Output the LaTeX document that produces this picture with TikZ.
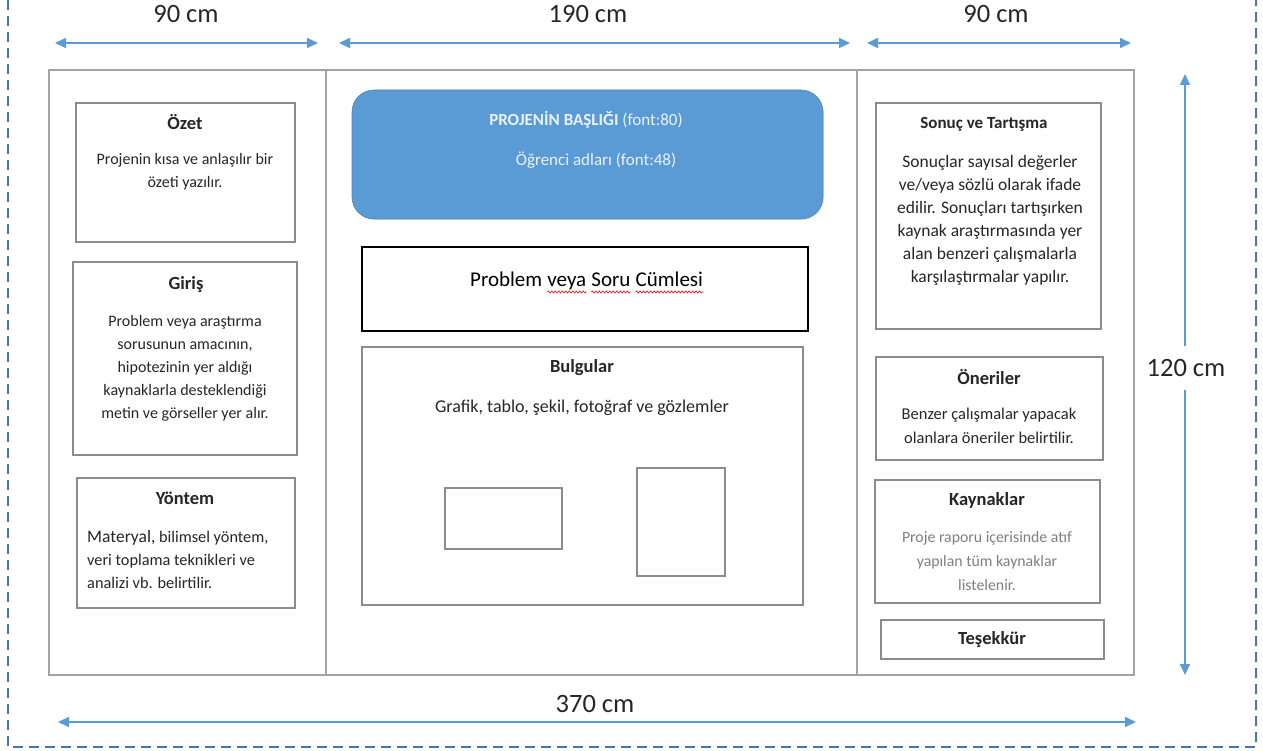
\documentclass[tikz,border=0pt]{standalone}
\usepackage{fontspec}
\setmainfont{Carlito}
\usetikzlibrary{arrows.meta,shadows,decorations.pathmorphing}
\definecolor{boxgray}{HTML}{8C8C8C}
\definecolor{framegray}{HTML}{A3A3A3}
\definecolor{arrowblue}{HTML}{5B9BD5}
\definecolor{dashblue}{HTML}{4472C4}
\definecolor{titlefill}{HTML}{5B9BD5}
\definecolor{titletext}{HTML}{EAF1FA}
\definecolor{bodytext}{HTML}{262626}
\definecolor{lighttext}{HTML}{7F7F7F}
\begin{document}
\begin{tikzpicture}[x=1pt,y=-1pt,
  box/.style={draw=boxgray, line width=1.3pt, fill=white, rectangle, inner sep=0pt,
    drop shadow={opacity=0.15, shadow xshift=1.2pt, shadow yshift=-1.2pt}},
  ttl/.style={font=\fontsize{18.5}{20}\selectfont\bfseries, text=bodytext, inner sep=0pt},
  body/.style={font=\fontsize{16}{23}\selectfont, text=bodytext, align=center, inner sep=0pt},
  dimlabel/.style={font=\fontsize{26.5}{30}\selectfont, text=black!85, inner sep=0pt},
  dimarrow/.style={draw=arrowblue, line width=1.6pt},
  both/.style={{Triangle[width=10pt,length=11pt]}-{Triangle[width=10pt,length=11pt]}},
  tip/.style={-{Triangle[width=10pt,length=11pt]}},
  pword/.style={font=\fontsize{21}{24}\selectfont, text=black, inner sep=0pt, anchor=base west},
  spell/.style={red, line width=0.6pt, decorate, decoration={snake, amplitude=1.1pt, segment length=3.5pt}}
]
\useasboundingbox (0,0) rectangle (1263,751);

% dashed outer border (top edge lies outside the picture)
\coordinate (bTL) at (8,0);
\coordinate (bBL) at (8,747);
\coordinate (bBR) at (1256,747);
\coordinate (bTR) at (1256,0);
\draw[dashblue, line width=2.2pt, dash pattern=on 10pt off 6pt] (bTL) -- (bBL) -- (bBR) -- (bTR);

% main frame
\node[draw=framegray, line width=1.3pt, minimum width=1085pt, minimum height=605pt, inner sep=0pt] (frame) at (591.5,372.5) {};
\coordinate (d1t) at (326,70);  \coordinate (d1b) at (326,675);
\coordinate (d2t) at (857,70);  \coordinate (d2b) at (857,675);
\draw[framegray, line width=1.3pt] (d1t) -- (d1b);
\draw[framegray, line width=1.3pt] (d2t) -- (d2b);

% top dimension arrows
\coordinate (a1l) at (55,43);  \coordinate (a1r) at (318,43);
\coordinate (a2l) at (339,43); \coordinate (a2r) at (850,43);
\coordinate (a3l) at (867,43); \coordinate (a3r) at (1131,43);
\draw[dimarrow, both] (a1l) -- (a1r);
\draw[dimarrow, both] (a2l) -- (a2r);
\draw[dimarrow, both] (a3l) -- (a3r);
\node[dimlabel] (l1) at (186,14) {90 cm};
\node[dimlabel] (l2) at (588,14) {190 cm};
\node[dimlabel] (l3) at (996,14) {90 cm};

% right vertical arrow
\node[dimlabel, inner ysep=13pt] (l4) at (1186,368) {120 cm};
\coordinate (vt) at (1185,74);
\coordinate (vb) at (1185,675);
\draw[dimarrow, tip] (l4.north -| vt) -- (vt);
\draw[dimarrow, tip] (l4.south -| vb) -- (vb);

% bottom arrow
\coordinate (bl) at (58,722); \coordinate (br) at (1136,722);
\draw[dimarrow, both] (bl) -- (br);
\node[dimlabel] (l5) at (595,704) {370 cm};

% ---------------- left column ----------------
\node[box, minimum width=219pt, minimum height=139pt] (ozet) at (185.5,172.5) {};
\node[ttl] (ozetT) at (185,122) {Özet};
\node[body] (ozetB) at (185,172) {Projenin kısa ve anlaşılır bir\\özeti yazılır.};

\node[box, minimum width=224pt, minimum height=193pt] (giris) at (185,358.5) {};
\node[ttl] (girisT) at (186,285) {Giriş};
\node[body] (girisB) at (185,368) {Problem veya araştırma\\sorusunun amacının,\\hipotezinin yer aldığı\\kaynaklarla desteklendiği\\metin ve görseller yer alır.};

\node[box, minimum width=218pt, minimum height=130pt] (yontem) at (186,543) {};
\node[ttl] (yontemT) at (185,498) {Yöntem};
\node[body, align=left, anchor=west, font=\fontsize{16.3}{23}\selectfont] (yontemB) at (87,559) {{\fontsize{17.5}{23}\selectfont Materyal,} bilimsel yöntem,\\veri toplama teknikleri ve\\analizi vb. belirtilir.};

% ---------------- middle column ----------------
\node[fill=titlefill, draw=titlefill!85!black, line width=0.6pt, rounded corners=22pt,
      minimum width=471pt, minimum height=129pt, inner sep=0pt,
      drop shadow={opacity=0.15, shadow xshift=1.2pt, shadow yshift=-1.5pt}] (baslik) at (587.5,154.5) {};
\node[font=\fontsize{17}{20}\selectfont, text=titletext, inner sep=0pt] (baslikA) at (586,120) {\textbf{PROJENİN BAŞLIĞI} (font:80)};
\node[font=\fontsize{17}{20}\selectfont, text=titletext, inner sep=0pt] (baslikB) at (596,160) {Öğrenci adları (font:48)};

\node[draw=black, line width=1.3pt, fill=white, minimum width=446pt, minimum height=84pt, inner sep=0pt] (problem) at (585,289) {};
\node[pword] (pw1) at (470,287) {Problem};
\node[pword] (pw2) at ([xshift=4.8pt]pw1.base east) {veya};
\node[pword] (pw3) at ([xshift=4.8pt]pw2.base east) {Soru};
\node[pword] (pw4) at ([xshift=4.8pt]pw3.base east) {Cümlesi};
\draw[spell] ([yshift=-5pt]pw2.base west) -- ([yshift=-5pt]pw2.base east);
\draw[spell] ([yshift=-5pt]pw3.base west) -- ([yshift=-5pt]pw3.base east);
\draw[spell] ([yshift=-5pt]pw4.base west) -- ([yshift=-5pt]pw4.base east);

\node[box, minimum width=441pt, minimum height=258pt] (bulgular) at (582.5,476) {};
\node[ttl] (bulgularT) at (582,368) {Bulgular};
\node[body, font=\fontsize{18}{20}\selectfont] (bulgularB) at (582,408) {Grafik, tablo, şekil, fotoğraf ve gözlemler};
\node[box, minimum width=117pt, minimum height=61pt] (fig1) at (503.5,518.5) {};
\node[box, minimum width=88pt, minimum height=108pt] (fig2) at (681,522) {};

% ---------------- right column ----------------
\node[box, minimum width=225pt, minimum height=226pt] (sonuc) at (988.5,216) {};
\node[ttl, font=\fontsize{17}{20}\selectfont\bfseries] (sonucT) at (984,124) {Sonuç ve Tartışma};
\node[body, font=\fontsize{17.5}{23}\selectfont] (sonucB) at (990,220) {Sonuçlar sayısal değerler\\ve/veya sözlü olarak ifade\\edilir. Sonuçları tartışırken\\kaynak araştırmasında yer\\alan benzeri çalışmalarla\\karşılaştırmalar yapılır.};

\node[box, minimum width=227pt, minimum height=103pt] (oneriler) at (989.5,408.5) {};
\node[ttl] (onerilerT) at (989,377) {Öneriler};
\node[body, font=\fontsize{16.5}{24}\selectfont] (onerilerB) at (989,426) {Benzer çalışmalar yapacak\\olanlara öneriler belirtilir.};

\node[box, minimum width=225pt, minimum height=123pt] (kaynak) at (987.5,541.5) {};
\node[ttl] (kaynakT) at (987,500) {Kaynaklar};
\node[body, text=lighttext, font=\fontsize{15.8}{24}\selectfont] (kaynakB) at (987,561) {Proje raporu içerisinde atıf\\yapılan tüm kaynaklar\\listelenir.};

\node[box, minimum width=223pt, minimum height=39pt] (tesekkur) at (992.5,639.5) {};
\node[ttl] (tesekkurT) at (992,640) {Teşekkür};
\end{tikzpicture}
\end{document}
